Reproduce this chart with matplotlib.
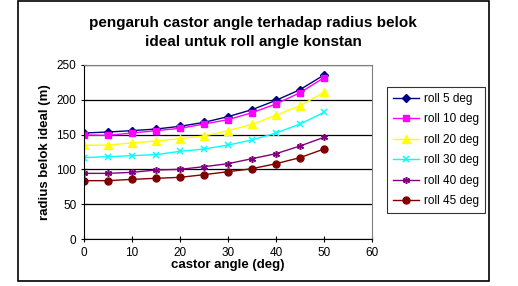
import matplotlib
matplotlib.use("Agg")
import matplotlib.pyplot as plt
from matplotlib.patches import Rectangle

plt.rcParams['font.family'] = ['Liberation Sans', 'DejaVu Sans']

castor = [0, 5, 10, 15, 20, 25, 30, 35, 40, 45, 50]
roll5 = [152.3, 153.7, 155.7, 158.0, 161.9, 167.6, 175.8, 185.8, 199.2, 214.6, 235.6]
roll10 = [149.4, 149.0, 152.3, 155.7, 159.0, 165.2, 171.5, 181.5, 194.0, 210.2, 231.8]
roll20 = [134.6, 135.0, 138.0, 140.8, 144.2, 148.0, 155.7, 164.8, 177.7, 191.6, 210.7]
roll30 = [116.9, 118.3, 119.7, 121.2, 126.0, 129.3, 135.0, 142.2, 152.3, 165.2, 182.0]
roll40 = [94.3, 94.3, 95.8, 99.1, 100.1, 103.9, 108.2, 115.4, 122.6, 133.6, 146.1]
roll45 = [83.8, 83.8, 85.7, 87.2, 88.6, 92.4, 96.7, 101.0, 108.2, 116.9, 129.3]
labels = ["roll 5 deg", "roll 10 deg", "roll 20 deg", "roll 30 deg", "roll 40 deg", "roll 45 deg"]
xticks = [0, 10, 20, 30, 40, 50, 60]
yticks = [0, 50, 100, 150, 200, 250]

W, H = 518, 286
fig = plt.figure(figsize=(W / 100, H / 100), dpi=100)
fig.patches.append(Rectangle((18 / W, 1 - 281 / H), (489 - 18) / W, (281 - 1) / H,
                             transform=fig.transFigure, fill=False, edgecolor='black', lw=1.2))

ax = fig.add_axes([84 / W, 1 - 239 / H, (372 - 84) / W, (239 - 65) / H])

series = [roll5, roll10, roll20, roll30, roll40, roll45]
colors = ['#000080', '#FF00FF', '#FFFF00', '#00FFFF', '#800080', '#800000']
markers = ['D', 's', '^', 'x', (6, 2, 0), 'o']
msizes = [4, 5, 5.5, 4.5, 5, 5]
for ys, c, m, ms, lab in zip(series, colors, markers, msizes, labels):
    kw = dict(color=c, marker=m, markersize=ms, lw=1, label=lab)
    if m == 'x' or isinstance(m, tuple):
        kw['markeredgewidth'] = 1.1
    ax.plot(castor, ys, **kw)

ax.set_xlim(0, 60)
ax.set_ylim(0, 250)
ax.set_xticks(xticks)
ax.set_yticks(yticks)
ax.yaxis.grid(True, color='black', lw=0.9)
ax.set_axisbelow(True)
for s in ['top', 'right']:
    ax.spines[s].set_color('#808080')
for s in ['left', 'bottom']:
    ax.spines[s].set_color('black')
ax.tick_params(axis='both', labelsize=8.5, length=4, direction='inout', width=0.8)
ax.set_xlabel('castor angle (deg)', fontsize=9.5, fontweight='bold', labelpad=0)
ax.set_ylabel('radius belok ideal (m)', fontsize=9.5, fontweight='bold', labelpad=4)

fig.text(253 / W, 1 - 32.5 / H, 'pengaruh castor angle terhadap radius belok\nideal untuk roll angle konstan',
         ha='center', va='center', fontsize=11, fontweight='bold', linespacing=1.45)

leg = ax.legend(loc='upper left', bbox_to_anchor=(387 / W, 1 - 87 / H), bbox_transform=fig.transFigure,
                fontsize=8.5, frameon=True, fancybox=False, edgecolor='black', borderpad=0.5,
                handlelength=2.2, labelspacing=0.72, handletextpad=0.4, borderaxespad=0)
leg.get_frame().set_linewidth(0.8)

fig.savefig('out.png', dpi=100)
